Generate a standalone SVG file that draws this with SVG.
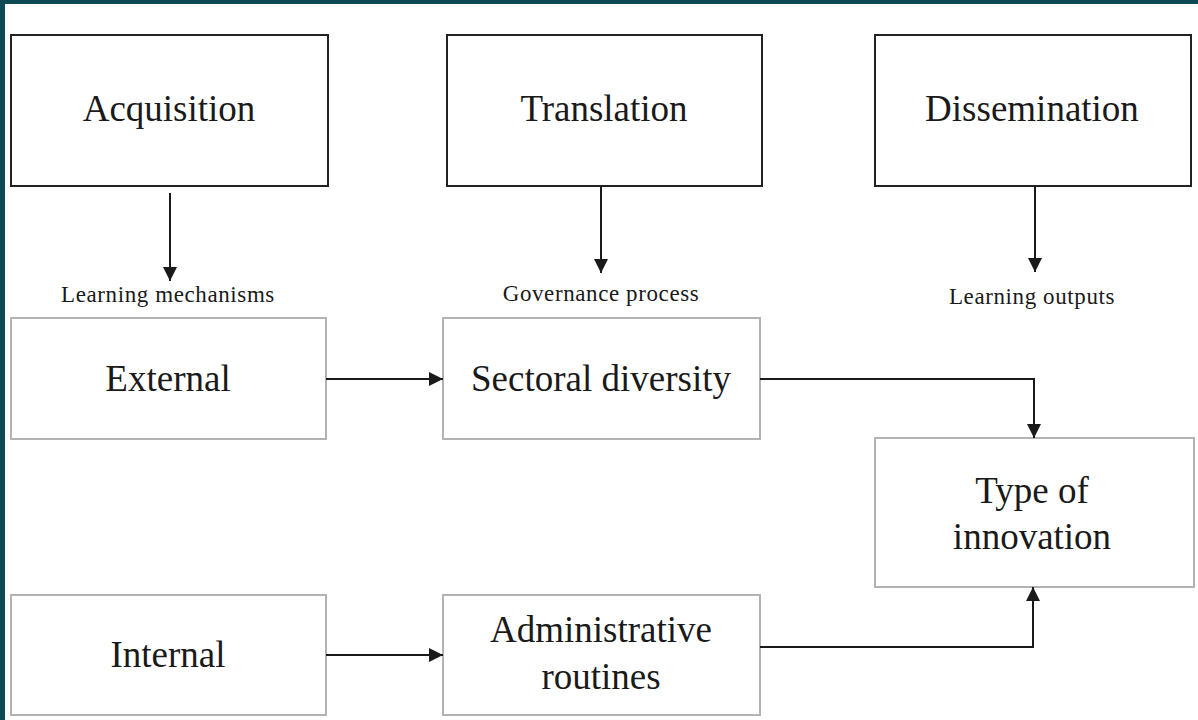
<svg xmlns="http://www.w3.org/2000/svg" width="1198" height="720" viewBox="0 0 1198 720">
  <style>
    .stage { fill: #ffffff; stroke: #222222; stroke-width: 2; }
    .factor { fill: #ffffff; stroke: #b3b3b3; stroke-width: 2; }
    .big { font-family: "Liberation Serif", "Times New Roman", serif; font-size: 37px; fill: #1a1a1a; text-anchor: middle; }
    .small { font-family: "Liberation Serif", "Times New Roman", serif; font-size: 23px; letter-spacing: 0.6px; fill: #1a1a1a; text-anchor: middle; }
    .link { fill: none; stroke: #1a1a1a; stroke-width: 2; }
  </style>
  <defs>
    <marker id="arrow" viewBox="0 0 10 10" refX="10" refY="5" markerWidth="7" markerHeight="7" markerUnits="strokeWidth" orient="auto">
      <path d="M0,0 L10,5 L0,10 Z" fill="#1a1a1a"/>
    </marker>
  </defs>

  <!-- page background with dark frame -->
  <rect x="0" y="0" width="1198" height="720" fill="#0d4a55"/>
  <rect x="5" y="4" width="1193" height="716" fill="#ffffff"/>

  <!-- stage headers -->
  <g id="acquisition">
    <rect class="stage" x="11" y="35" width="317" height="151"/>
    <text class="big" x="169" y="121">Acquisition</text>
  </g>
  <g id="translation">
    <rect class="stage" x="447" y="35" width="315" height="151"/>
    <text class="big" x="604" y="121">Translation</text>
  </g>
  <g id="dissemination">
    <rect class="stage" x="875" y="35" width="316" height="151"/>
    <text class="big" x="1032" y="121">Dissemination</text>
  </g>

  <!-- stage captions -->
  <g id="captions">
    <text class="small" x="168" y="302">Learning mechanisms</text>
    <text class="small" x="601" y="301">Governance process</text>
    <text class="small" x="1032" y="304">Learning outputs</text>
  </g>

  <!-- factor boxes -->
  <g id="external">
    <rect class="factor" x="11" y="318" width="315" height="121"/>
    <text class="big" x="168" y="391">External</text>
  </g>
  <g id="sectoral-diversity">
    <rect class="factor" x="443" y="318" width="317" height="121"/>
    <text class="big" x="601" y="391">Sectoral diversity</text>
  </g>
  <g id="type-of-innovation">
    <rect class="factor" x="875" y="438" width="319" height="149"/>
    <text class="big" x="1032" y="503">Type of</text>
    <text class="big" x="1032" y="549">innovation</text>
  </g>
  <g id="internal">
    <rect class="factor" x="11" y="595" width="315" height="120"/>
    <text class="big" x="168" y="667">Internal</text>
  </g>
  <g id="administrative-routines">
    <rect class="factor" x="443" y="595" width="317" height="120"/>
    <text class="big" x="601" y="642">Administrative</text>
    <text class="big" x="601" y="689">routines</text>
  </g>

  <!-- connectors -->
  <g id="connectors">
    <line class="link" x1="170" y1="193" x2="170" y2="281" marker-end="url(#arrow)"/>
    <line class="link" x1="601" y1="186" x2="601" y2="273" marker-end="url(#arrow)"/>
    <line class="link" x1="1035" y1="186" x2="1035" y2="272" marker-end="url(#arrow)"/>
    <line class="link" x1="326" y1="379" x2="443" y2="379" marker-end="url(#arrow)"/>
    <polyline class="link" points="760,379 1034,379 1034,438" marker-end="url(#arrow)"/>
    <line class="link" x1="326" y1="655" x2="443" y2="655" marker-end="url(#arrow)"/>
    <polyline class="link" points="760,647 1033,647 1033,587" marker-end="url(#arrow)"/>
  </g>
</svg>
